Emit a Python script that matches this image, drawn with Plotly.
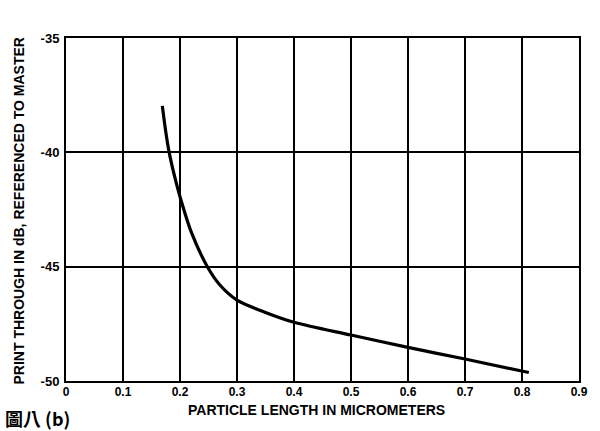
import plotly.graph_objects as go

# Data
particle_length = [0.169, 0.175, 0.181, 0.19, 0.2, 0.22, 0.248, 0.27, 0.3, 0.35, 0.4, 0.5, 0.6, 0.7, 0.812]
print_through = [-37.97, -39.1, -40.0, -41.0, -41.94, -43.5, -45.0, -45.8, -46.46, -47.0, -47.43, -47.99, -48.53, -49.04, -49.63]

x_ticks = [0, 0.1, 0.2, 0.3, 0.4, 0.5, 0.6, 0.7, 0.8, 0.9]
x_ticktext = ["0", "0.1", "0.2", "0.3", "0.4", "0.5", "0.6", "0.7", "0.8", "0.9"]
y_ticks = [-35, -40, -45, -50]
y_ticktext = ["-35", "-40", "-45", "-50"]

font_family = "Liberation Sans"

fig = go.Figure()
fig.add_trace(go.Scatter(
    x=particle_length, y=print_through, mode="lines",
    line=dict(color="black", width=3.2, shape="spline", smoothing=0.8),
    hoverinfo="skip", showlegend=False,
))

fig.update_layout(
    width=600, height=431,
    margin=dict(l=66, r=17, t=38, b=50),
    paper_bgcolor="white", plot_bgcolor="white",
    font=dict(family=font_family, color="black"),
    xaxis=dict(
        range=[0, 0.9], tickvals=x_ticks, ticktext=x_ticktext,
        showgrid=True, gridcolor="black", gridwidth=2,
        showline=True, linecolor="black", linewidth=2, mirror=True,
        ticks="", zeroline=False, ticklabelstandoff=-1,
        tickfont=dict(family=font_family, size=12, color="black", weight="bold"),
        fixedrange=True,
    ),
    yaxis=dict(
        range=[-50, -35], tickvals=y_ticks, ticktext=y_ticktext,
        showgrid=True, gridcolor="black", gridwidth=2,
        showline=True, linecolor="black", linewidth=2, mirror=True,
        ticks="", zeroline=False, ticklabelstandoff=2,
        tickfont=dict(family=font_family, size=13, color="black", weight="bold"),
        fixedrange=True,
    ),
    annotations=[
        dict(text="<b>PARTICLE LENGTH IN MICROMETERS</b>", xref="paper", yref="paper",
             x=0.5, y=0, xshift=-6, yshift=-29, xanchor="center", yanchor="middle",
             showarrow=False, font=dict(family=font_family, size=14, color="black")),
        dict(text="<b>PRINT THROUGH IN dB, REFERENCED TO MASTER</b>", xref="paper", yref="paper",
             x=0, y=0.5, xshift=-48, yshift=-2, xanchor="center", yanchor="middle", textangle=-90,
             showarrow=False, font=dict(family=font_family, size=14, color="black")),
        dict(text="<b>圖八 (b)</b>", xref="paper", yref="paper",
             x=0, y=0, xshift=-63, yshift=-37, xanchor="left", yanchor="middle",
             showarrow=False, font=dict(family="Noto Sans CJK TC", size=18, color="black")),
    ],
)

fig.write_html("out.html")
